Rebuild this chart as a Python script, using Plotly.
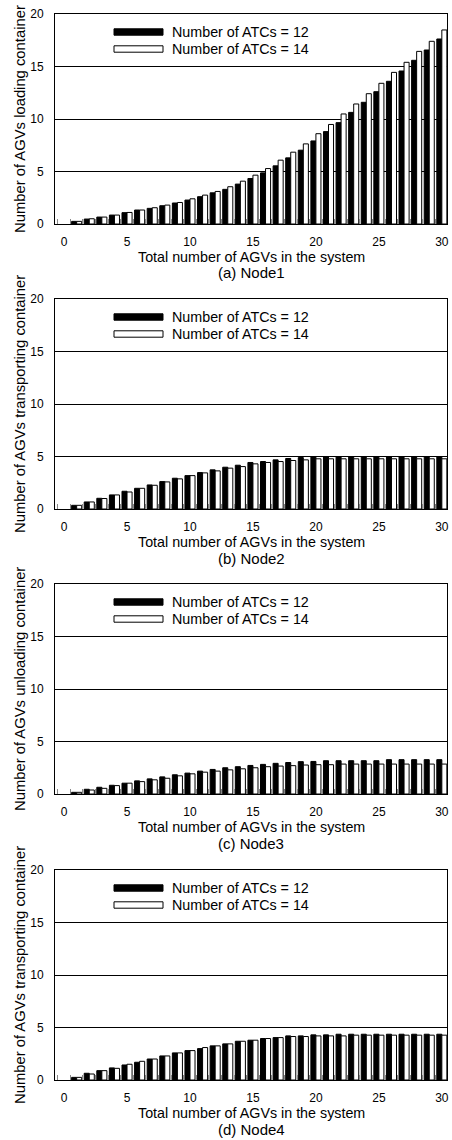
import plotly.graph_objects as go
from plotly.subplots import make_subplots

agvs = list(range(1, 31))

node1_atc12 = [0.25, 0.47, 0.66, 0.85, 1.08, 1.33, 1.49, 1.74, 2.0, 2.28,
               2.6, 2.97, 3.3, 3.8, 4.33, 4.87, 5.54, 6.3, 7.03, 7.91,
               8.8, 9.65, 10.63, 11.59, 12.6, 13.59, 14.57, 15.59, 16.57, 17.62]
node1_atc14 = [0.25, 0.5, 0.66, 0.85, 1.1, 1.33, 1.55, 1.8, 2.05, 2.4,
               2.75, 3.1, 3.55, 4.08, 4.65, 5.28, 6.08, 6.84, 7.63, 8.6,
               9.48, 10.48, 11.43, 12.41, 13.4, 14.44, 15.4, 16.44, 17.4, 18.48]

node2_atc12 = [0.35, 0.67, 1.02, 1.34, 1.69, 1.97, 2.29, 2.61, 2.93, 3.18,
               3.47, 3.73, 3.98, 4.17, 4.43, 4.52, 4.68, 4.81, 4.9, 5.0,
               5.0, 5.0, 5.0, 5.0, 5.0, 5.0, 5.0, 5.0, 5.0, 5.0]
node2_atc14 = [0.35, 0.67, 1.0, 1.34, 1.62, 1.97, 2.26, 2.58, 2.87, 3.18,
               3.44, 3.63, 3.89, 4.04, 4.3, 4.43, 4.52, 4.62, 4.68, 4.78,
               4.78, 4.78, 4.78, 4.78, 4.78, 4.78, 4.78, 4.78, 4.78, 4.78]

node3_atc12 = [0.16, 0.45, 0.64, 0.83, 1.03, 1.25, 1.44, 1.63, 1.83, 1.99,
               2.18, 2.34, 2.5, 2.6, 2.72, 2.82, 2.92, 3.0, 3.08, 3.1,
               3.17, 3.17, 3.17, 3.17, 3.17, 3.27, 3.27, 3.27, 3.27, 3.27]
node3_atc14 = [0.16, 0.38, 0.54, 0.8, 1.03, 1.18, 1.35, 1.5, 1.73, 1.92,
               2.08, 2.18, 2.3, 2.4, 2.5, 2.6, 2.66, 2.7, 2.76, 2.79,
               2.79, 2.85, 2.85, 2.85, 2.85, 2.85, 2.85, 2.85, 2.85, 2.85]

node4_atc12 = [0.25, 0.64, 0.89, 1.15, 1.43, 1.69, 2.0, 2.29, 2.58, 2.8,
               2.99, 3.25, 3.44, 3.69, 3.79, 3.95, 4.04, 4.2, 4.2, 4.3,
               4.3, 4.36, 4.36, 4.36, 4.36, 4.36, 4.36, 4.36, 4.36, 4.36]
node4_atc14 = [0.25, 0.57, 0.89, 1.11, 1.5, 1.78, 2.0, 2.29, 2.58, 2.8,
               3.09, 3.25, 3.44, 3.69, 3.79, 3.95, 4.04, 4.14, 4.14, 4.2,
               4.2, 4.2, 4.27, 4.27, 4.27, 4.27, 4.27, 4.27, 4.27, 4.27]

series_names = ["Number of ATCs = 12", "Number of ATCs = 14"]
y_titles = ["Number of AGVs loading container",
            "Number of AGVs transporting container",
            "Number of AGVs unloading container",
            "Number of AGVs transporting container"]
captions = ["(a) Node1", "(b) Node2", "(c) Node3", "(d) Node4"]
x_title = "Total number of AGVs in the system"
x_ticks = [0, 5, 10, 15, 20, 25, 30]
y_ticks = [0, 5, 10, 15, 20]

panels = [(node1_atc12, node1_atc14), (node2_atc12, node2_atc14),
          (node3_atc12, node3_atc14), (node4_atc12, node4_atc14)]

W, H = 452, 1140
ML, MR = 55, 5
PW = W - ML - MR
tops = [14, 299, 584, 870]
PH = 210

FONT = "Liberation Sans, Arial, sans-serif"

fig = make_subplots(rows=4, cols=1)

for i, (s12, s14) in enumerate(panels):
    r = i + 1
    fig.add_trace(go.Bar(x=agvs, y=s12, name=series_names[0], showlegend=False,
                         marker=dict(color="black", line=dict(color="black", width=1))),
                  row=r, col=1)
    fig.add_trace(go.Bar(x=agvs, y=s14, name=series_names[1], showlegend=False,
                         marker=dict(color="white", line=dict(color="black", width=1))),
                  row=r, col=1)

annotations = []
shapes = []
for i in range(4):
    r = i + 1
    top = tops[i]
    bot = top + PH
    d0 = 1 - bot / H
    d1 = 1 - top / H
    xa = "xaxis" if r == 1 else f"xaxis{r}"
    ya = "yaxis" if r == 1 else f"yaxis{r}"
    fig.layout[ya].update(
        domain=[d0, d1], range=[0, 20], tickvals=y_ticks, ticks="",
        showgrid=True, gridcolor="black", gridwidth=1, zeroline=False,
        showline=True, linecolor="black", linewidth=1, mirror=True,
        automargin=False,
        ticklabelstandoff=8, tickfont=dict(size=12, family=FONT, color="black"),
    )
    fig.layout[xa].update(
        range=[-0.72, 30.41], tickvals=x_ticks, ticks="", showgrid=False,
        zeroline=False, showline=True, linecolor="black", linewidth=1, mirror=True,
        automargin=False,
        ticklabelstandoff=7, tickfont=dict(size=12, family=FONT, color="black"),
        minor=dict(ticks="inside", ticklen=5, tickcolor="#888888", tickwidth=1,
                   dtick=1, tick0=0.5, showgrid=False),
    )
    xref_d = ("x" if r == 1 else f"x{r}") + " domain"
    yref_d = ("y" if r == 1 else f"y{r}") + " domain"
    sx0 = (114 - ML) / PW
    sx1 = (163 - ML) / PW
    for k, (off, fill) in enumerate([(18, "black"), (35, "white")]):
        yc = 1 - off / PH
        hh = 3.2 / PH
        shapes.append(dict(type="rect", xref=xref_d, yref=yref_d,
                           x0=sx0, x1=sx1, y0=yc - hh, y1=yc + hh,
                           fillcolor=fill, line=dict(color="black", width=1)))
        annotations.append(dict(xref=xref_d, yref=yref_d, x=(170 - ML) / PW, y=yc,
                                text=series_names[k], showarrow=False,
                                xanchor="left", yanchor="middle",
                                font=dict(size=14.3, family=FONT, color="black")))
    annotations.append(dict(xref="paper", yref="paper", x=(20 - ML) / PW,
                            y=1 - (top + PH / 2) / H, text=y_titles[i], textangle=-90,
                            showarrow=False, xanchor="center", yanchor="middle",
                            font=dict(size=14.8, family=FONT, color="black")))
    annotations.append(dict(xref="paper", yref="paper", x=0.5,
                            y=1 - (bot + 33) / H, text=x_title, showarrow=False,
                            xanchor="center", yanchor="middle",
                            font=dict(size=14.3, family=FONT, color="black")))
    annotations.append(dict(xref="paper", yref="paper", x=0.5,
                            y=1 - (bot + 49) / H, text=captions[i], showarrow=False,
                            xanchor="center", yanchor="middle",
                            font=dict(size=15, family=FONT, color="black")))

fig.update_layout(
    width=W, height=H, margin=dict(l=ML, r=MR, t=0, b=0, autoexpand=False),
    paper_bgcolor="white", plot_bgcolor="white",
    barmode="group", bargap=0.2, bargroupgap=0,
    font=dict(family=FONT, size=12, color="black"),
    annotations=annotations, shapes=shapes, showlegend=False,
)

fig.write_html("out.html", config={"displayModeBar": False},
               post_script="document.body.style.margin='0';document.body.style.overflow='hidden';")
